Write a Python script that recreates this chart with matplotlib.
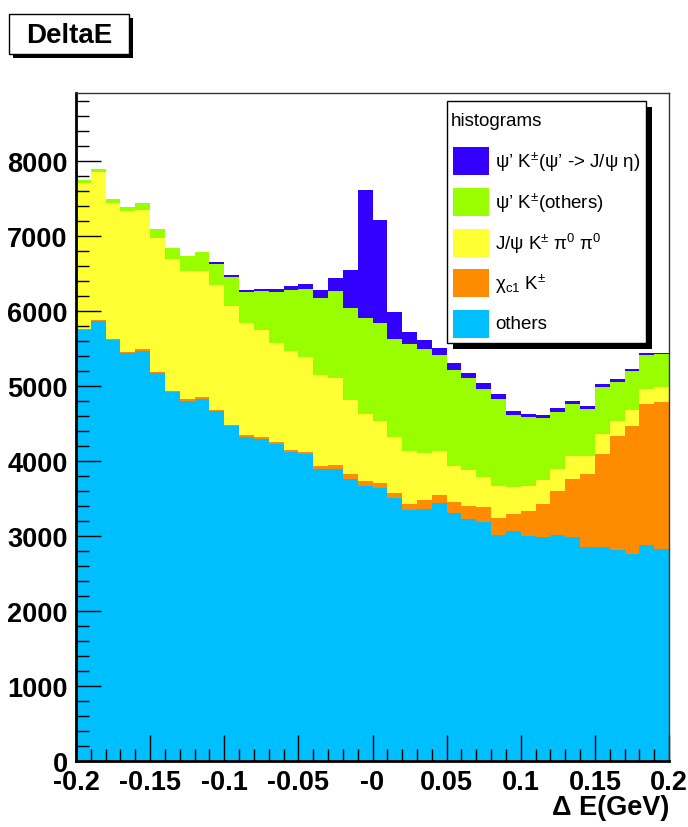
import numpy as np
import matplotlib
matplotlib.use("Agg")
import matplotlib.pyplot as plt
from matplotlib.patches import Rectangle
from matplotlib.ticker import MultipleLocator, FixedLocator

plt.rcParams['font.family'] = ['Liberation Sans', 'DejaVu Sans']
plt.rcParams['mathtext.fontset'] = 'custom'
plt.rcParams['mathtext.rm'] = 'Liberation Sans'
plt.rcParams['mathtext.it'] = 'Liberation Sans:italic'
plt.rcParams['mathtext.bf'] = 'Liberation Sans:bold'

# Histogram binning (Delta E in GeV)
x_lo, x_hi, n_bins = -0.2, 0.2, 40

# Per-bin entries for each component, bottom of the stack first
others = [5740, 5860, 5610, 5440, 5467, 5170, 4920, 4796, 4828, 4659,
          4458, 4320, 4290, 4222, 4120, 4087, 3893, 3888, 3762, 3660,
          3632, 3507, 3338, 3360, 3436, 3307, 3218, 3182, 3017, 3071,
          3004, 2982, 3017, 2991, 2857, 2848, 2812, 2759, 2884, 2826]
chi_c1_k = [15, 17, 15, 13, 20, 13, 15, 21, 21, 21,
            16, 21, 21, 24, 27, 33, 37, 54, 56, 71,
            75, 63, 89, 112, 103, 142, 178, 201, 219, 223,
            325, 436, 575, 766, 963, 1247, 1515, 1707, 1871, 1956]
jpsi_k_pi0pi0 = [1950, 1968, 1815, 1870, 1848, 1789, 1747, 1717, 1685, 1668,
                 1593, 1494, 1429, 1325, 1318, 1260, 1210, 1155, 989, 889,
                 817, 748, 704, 637, 590, 477, 477, 401, 423, 356,
                 330, 330, 303, 303, 240, 268, 201, 209, 201, 196]
psi2s_k_others = [35, 40, 48, 57, 95, 118, 148, 188, 241, 275,
                  379, 413, 518, 680, 807, 905, 1026, 1163, 1229, 1285,
                  1313, 1306, 1422, 1377, 1286, 1284, 1234, 1176, 1168, 963,
                  918, 816, 758, 695, 633, 624, 526, 521, 454, 441]
psi2s_k_eta = [5, 5, 4, 3, 4, 3, 4, 5, 4, 27,
               27, 27, 32, 37, 54, 73, 107, 177, 505, 1703,
               1369, 352, 169, 125, 89, 98, 58, 72, 66, 53,
               45, 40, 44, 45, 36, 31, 36, 23, 23, 23]

components = [others, chi_c1_k, jpsi_k_pi0pi0, psi2s_k_others, psi2s_k_eta]
colors = ['#00bfff', '#ff8c00', '#ffff33', '#99ff00', '#3300ff']

legend_labels = [r"ψ’ K$^{\pm}$(ψ’ -> J/ψ η)",
                 r"ψ’ K$^{\pm}$(others)",
                 r"J/ψ K$^{\pm}$ π$^{0}$ π$^{0}$",
                 r"χ$_{\mathrm{c1}}$ K$^{\pm}$",
                 "others"]
legend_colors = ['#3300ff', '#99ff00', '#ffff33', '#ff8c00', '#00bfff']

xtick_vals = [-0.2, -0.15, -0.1, -0.05, 0.0, 0.05, 0.1, 0.15, 0.2]
xtick_text = ['-0.2', '-0.15', '-0.1', '-0.05', '-0', '0.05', '0.1', '0.15', '0.2']
ytick_vals = [0, 1000, 2000, 3000, 4000, 5000, 6000, 7000, 8000]
ytick_text = ['0', '1000', '2000', '3000', '4000', '5000', '6000', '7000', '8000']

W, H = 688, 828
fig = plt.figure(figsize=(W / 100, H / 100), dpi=100)
fig.patch.set_facecolor('white')


def fx(px):
    return px / W


def fy(py):
    return 1 - py / H


ax = fig.add_axes([fx(76), fy(762), fx(669) - fx(76), fy(94) - fy(762)])

edges = np.linspace(x_lo, x_hi, n_bins + 1)
base = np.zeros(n_bins)
for vals, col in zip(components, colors):
    top = base + np.asarray(vals, dtype=float)
    ax.stairs(top, edges, baseline=base, fill=True, color=col, lw=0)
    base = top

ax.set_xlim(x_lo, x_hi)
ax.set_ylim(0, 8900)

ax.xaxis.set_major_locator(FixedLocator(xtick_vals))
ax.set_xticklabels(xtick_text)
ax.xaxis.set_minor_locator(MultipleLocator(0.01))
ax.yaxis.set_major_locator(FixedLocator(ytick_vals))
ax.set_yticklabels(ytick_text)
ax.yaxis.set_minor_locator(MultipleLocator(200))

ax.tick_params(which='both', direction='in', top=False, right=False,
               color='black', width=1)
ax.tick_params(axis='x', which='major', length=19, pad=6)
ax.tick_params(axis='x', which='minor', length=9)
ax.tick_params(axis='y', which='major', length=18, pad=6)
ax.tick_params(axis='y', which='minor', length=9)
for lab in ax.get_xticklabels() + ax.get_yticklabels():
    lab.set_fontweight('bold')
    lab.set_fontsize(19.5)

for side in ['left', 'bottom']:
    ax.spines[side].set_linewidth(2)
    ax.spines[side].set_color('black')
for side in ['top', 'right']:
    ax.spines[side].set_linewidth(1)
    ax.spines[side].set_color('#333333')

fig.text(fx(669), fy(808), 'Δ E(GeV)', ha='right', va='center',
         fontsize=19.5, fontweight='bold')

# Title box with drop shadow
fig.patches.append(Rectangle((fx(13), fy(59)), fx(120), fy(15) - fy(55),
                             transform=fig.transFigure, facecolor='black',
                             edgecolor='none', zorder=1))
fig.patches.append(Rectangle((fx(9), fy(55)), fx(120), fy(15) - fy(55),
                             transform=fig.transFigure, facecolor='white',
                             edgecolor='black', lw=1, zorder=2))
fig.text(fx(69), fy(36), 'DeltaE', ha='center', va='center',
         fontsize=20, fontweight='bold', zorder=3)

# Legend box with drop shadow
lx0, lx1, ly0, ly1 = 447, 646, 102, 344
fig.patches.append(Rectangle((fx(lx0 + 6), fy(ly1 + 6)), fx(lx1 - lx0), fy(ly0) - fy(ly1),
                             transform=fig.transFigure, facecolor='black',
                             edgecolor='none', zorder=4))
fig.patches.append(Rectangle((fx(lx0), fy(ly1)), fx(lx1 - lx0), fy(ly0) - fy(ly1),
                             transform=fig.transFigure, facecolor='white',
                             edgecolor='black', lw=1, zorder=5))
fig.text(fx(451), fy(122), 'histograms', ha='left', va='center',
         fontsize=13.5, zorder=6)
entry_y = [162, 203, 244, 284, 325]
for yc, lab, col in zip(entry_y, legend_labels, legend_colors):
    fig.patches.append(Rectangle((fx(453), fy(yc + 14)), fx(36), fy(yc - 14) - fy(yc + 14),
                                 transform=fig.transFigure, facecolor=col,
                                 edgecolor='none', zorder=6))
    fig.text(fx(495), fy(yc), lab, ha='left', va='center',
             fontsize=13.5, zorder=7)

fig.savefig('out.png', dpi=100, facecolor='white')
